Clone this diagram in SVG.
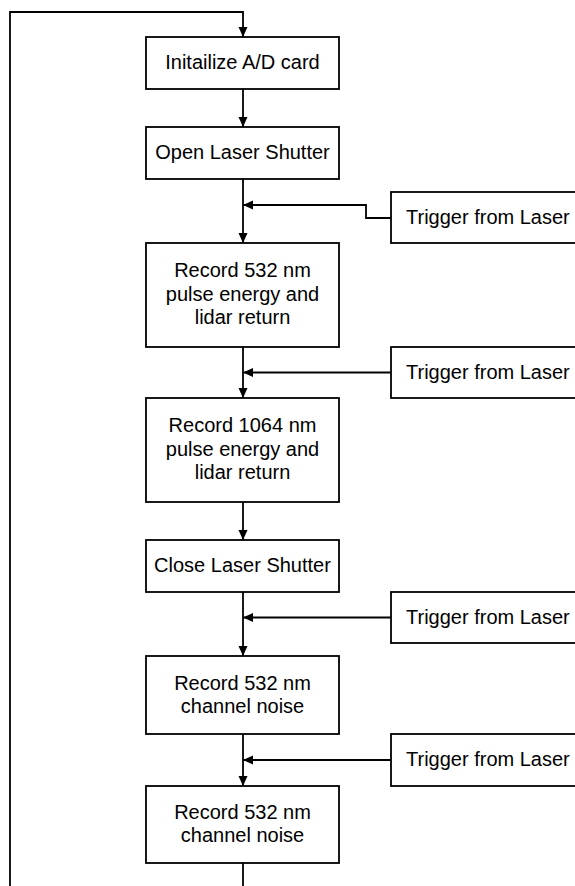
<svg xmlns="http://www.w3.org/2000/svg" width="575" height="886" viewBox="0 0 575 886">
<style>
.box{fill:#fff;stroke:#000;stroke-width:1.8}
.lbl{font-family:"Liberation Sans",Arial,sans-serif;font-size:20px;fill:#000;text-anchor:middle}
.tl{font-family:"Liberation Sans",Arial,sans-serif;font-size:20px;fill:#000}
.cn{fill:none;stroke:#000;stroke-width:1.8}
</style>
<defs>
<marker id="ah" markerUnits="userSpaceOnUse" markerWidth="11" markerHeight="10" refX="10" refY="4.5" orient="auto">
<path d="M0,0 L10,4.5 L0,9 z" fill="#000"/>
</marker>
</defs>
<rect width="575" height="886" fill="#fff"/>
<g id="connectors">
<path class="cn" d="M243,863 V892 H10 V12 H243 V37" marker-end="url(#ah)"/>
<path class="cn" d="M243,89 V127" marker-end="url(#ah)"/>
<path class="cn" d="M243,179 V243" marker-end="url(#ah)"/>
<path class="cn" d="M391,218 H366 V205 H243" marker-end="url(#ah)"/>
<path class="cn" d="M243,347 V398" marker-end="url(#ah)"/>
<path class="cn" d="M391,372.5 H243" marker-end="url(#ah)"/>
<path class="cn" d="M243,502 V540" marker-end="url(#ah)"/>
<path class="cn" d="M243,592 V656" marker-end="url(#ah)"/>
<path class="cn" d="M391,617.5 H243" marker-end="url(#ah)"/>
<path class="cn" d="M243,734 V786" marker-end="url(#ah)"/>
<path class="cn" d="M391,760 H243" marker-end="url(#ah)"/>
</g>
<g id="n1"><rect class="box" x="146" y="37" width="193" height="52"/><text class="lbl" x="242.5" y="69">Initailize A/D card</text></g>
<g id="n2"><rect class="box" x="146" y="127" width="193" height="52"/><text class="lbl" x="242.5" y="159">Open Laser Shutter</text></g>
<g id="t1"><rect class="box" x="391" y="192" width="200" height="51"/><text class="tl" x="406" y="224">Trigger from Laser</text></g>
<g id="n3"><rect class="box" x="146" y="243" width="193" height="104"/><text class="lbl" x="242.5" y="277">Record 532 nm</text><text class="lbl" x="242.5" y="300.5">pulse energy and</text><text class="lbl" x="242.5" y="324">lidar return</text></g>
<g id="t2"><rect class="box" x="391" y="347" width="200" height="51"/><text class="tl" x="406" y="379">Trigger from Laser</text></g>
<g id="n4"><rect class="box" x="146" y="398" width="193" height="104"/><text class="lbl" x="242.5" y="432">Record 1064 nm</text><text class="lbl" x="242.5" y="455.5">pulse energy and</text><text class="lbl" x="242.5" y="479">lidar return</text></g>
<g id="n5"><rect class="box" x="146" y="540" width="193" height="52"/><text class="lbl" x="242.5" y="572">Close Laser Shutter</text></g>
<g id="t3"><rect class="box" x="391" y="592" width="200" height="51"/><text class="tl" x="406" y="624">Trigger from Laser</text></g>
<g id="n6"><rect class="box" x="146" y="656" width="193" height="78"/><text class="lbl" x="242.5" y="690">Record 532 nm</text><text class="lbl" x="242.5" y="713">channel noise</text></g>
<g id="t4"><rect class="box" x="391" y="734" width="200" height="52"/><text class="tl" x="406" y="766">Trigger from Laser</text></g>
<g id="n7"><rect class="box" x="146" y="786" width="193" height="77"/><text class="lbl" x="242.5" y="819">Record 532 nm</text><text class="lbl" x="242.5" y="842">channel noise</text></g>
</svg>
